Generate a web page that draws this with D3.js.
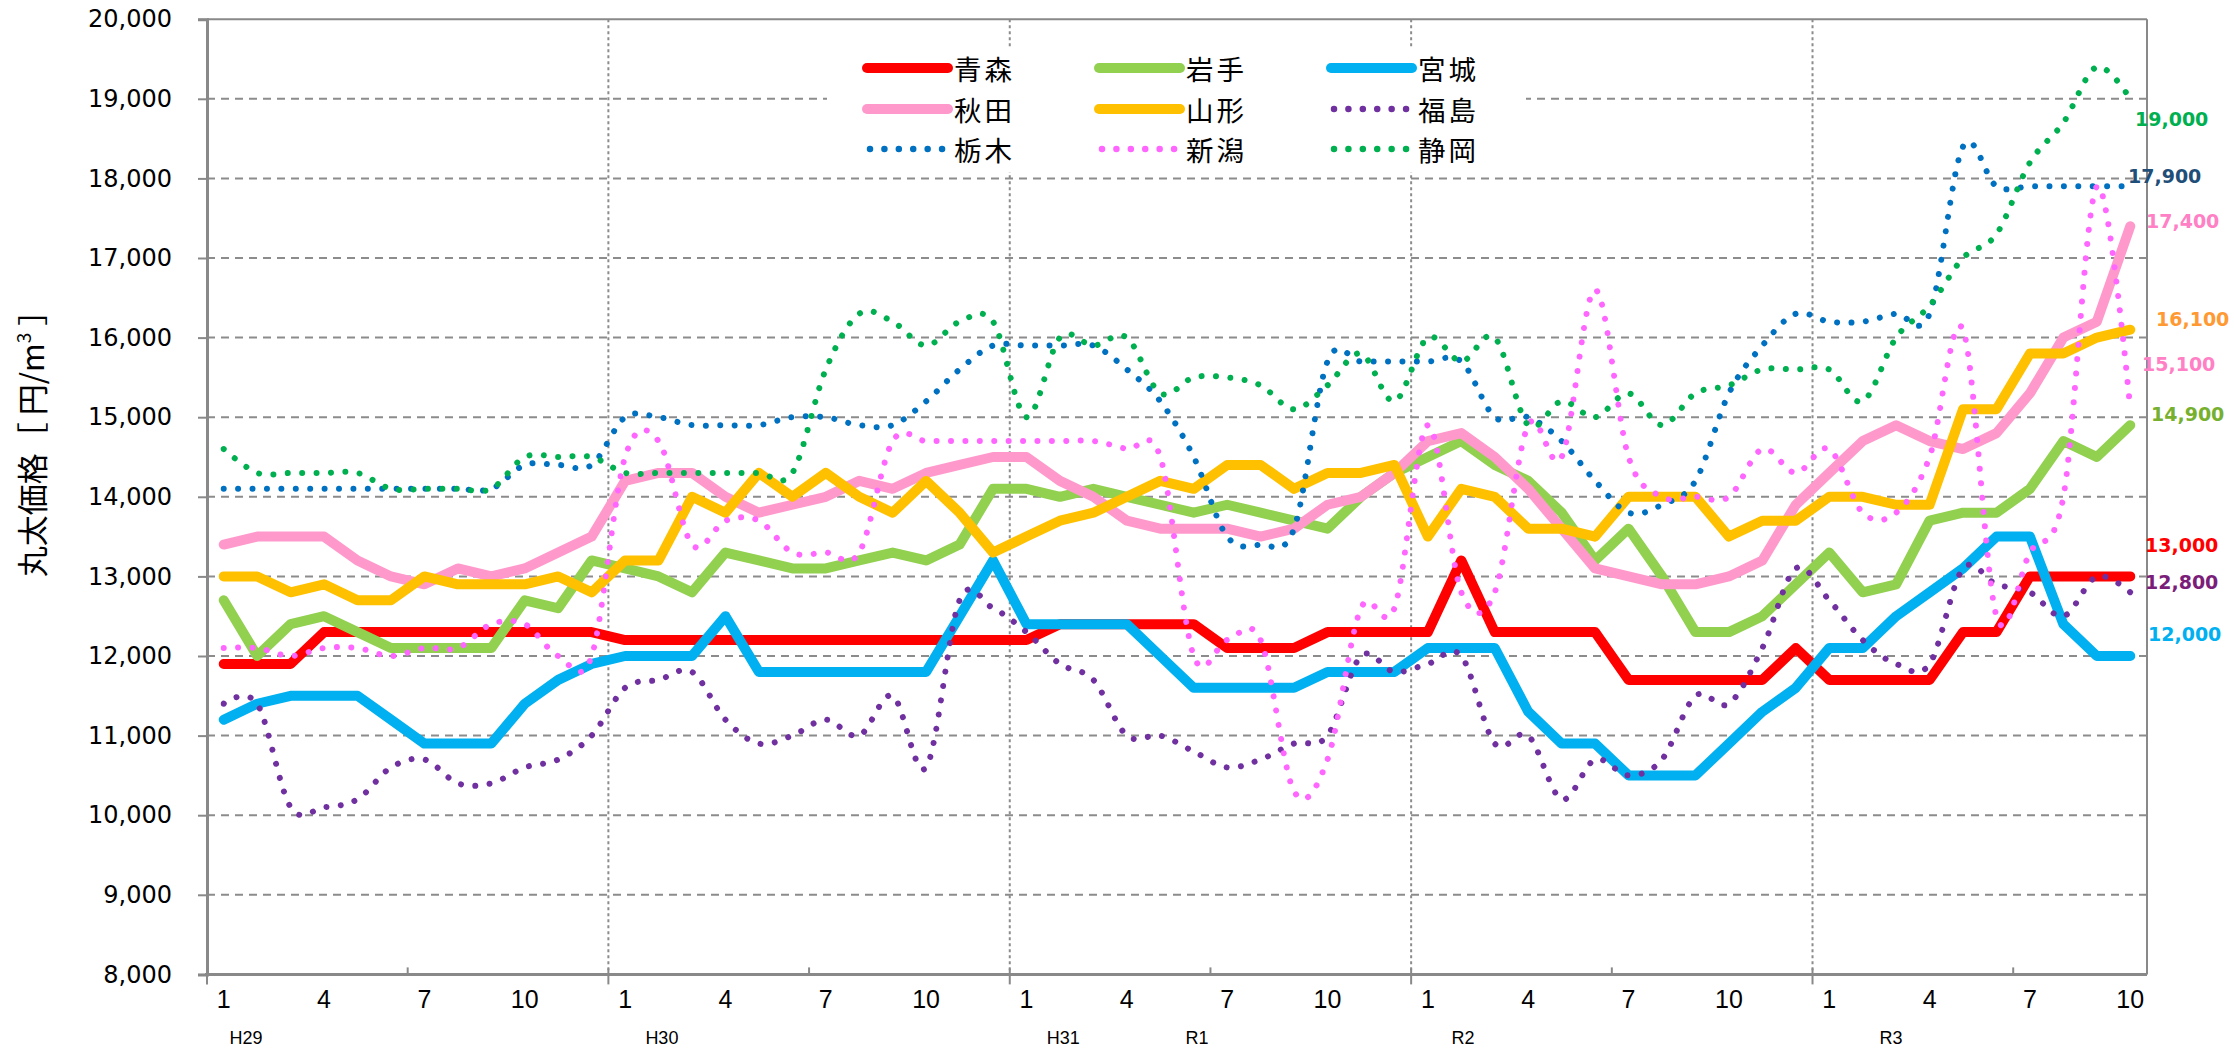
<!DOCTYPE html>
<html>
<head>
<meta charset="utf-8">
<script src="https://cdn.jsdelivr.net/npm/d3@7"></script>
<style>
  html, body { margin: 0; padding: 0; background: #fff; }
  svg { display: block; }
</style>
</head>
<body>
<svg id="chart" width="2234" height="1056"></svg>
<script>
// ---- categories: month of each observation, H29.1 through R3.10 ----
const months = [
  1,2,3,4,5,6,7,8,9,10,11,12,
  1,2,3,4,5,6,7,8,9,10,11,12,
  1,2,3,4,5,6,7,8,9,10,11,12,
  1,2,3,4,5,6,7,8,9,10,11,12,
  1,2,3,4,5,6,7,8,9,10
];
const monthLabels = [1, 4, 7, 10];
const eraLabels = ["H29", "H30", "H31", "R1", "R2", "R3"];

// ---- log prices (yen / m3) by prefecture ----
const aomori = [11900,11900,11900,12300,12300,12300,12300,12300,12300,12300,12300,12300,
  12200,12200,12200,12200,12200,12200,12200,12200,12200,12200,12200,12200,
  12200,12400,12400,12400,12400,12400,12100,12100,12100,12300,12300,12300,
  12300,13200,12300,12300,12300,12300,11700,11700,11700,11700,11700,12100,
  11700,11700,11700,11700,12300,12300,13000,13000,13000,13000];
const iwate = [12700,12000,12400,12500,12300,12100,12100,12100,12100,12700,12600,13200,
  13100,13000,12800,13300,13200,13100,13100,13200,13300,13200,13400,14100,
  14100,14000,14100,14000,13900,13800,13900,13800,13700,13600,14000,14300,
  14500,14700,14400,14200,13800,13200,13600,13000,12300,12300,12500,12900,
  13300,12800,12900,13700,13800,13800,14100,14700,14500,14900];
const miyagi = [11200,11400,11500,11500,11500,11200,10900,10900,10900,11400,11700,11900,
  12000,12000,12000,12500,11800,11800,11800,11800,11800,11800,12500,13200,
  12400,12400,12400,12400,12000,11600,11600,11600,11600,11800,11800,11800,
  12100,12100,12100,11300,10900,10900,10500,10500,10500,10900,11300,11600,
  12100,12100,12500,12800,13100,13500,13500,12400,12000,12000];
const akita = [13400,13500,13500,13500,13200,13000,12900,13100,13000,13100,13300,13500,
  14200,14300,14300,14000,13800,13900,14000,14200,14100,14300,14400,14500,
  14500,14200,14000,13700,13600,13600,13600,13500,13600,13900,14000,14300,
  14700,14800,14500,14100,13600,13100,13000,12900,12900,13000,13200,13900,
  14300,14700,14900,14700,14600,14800,15300,16000,16200,17400];
const yamagata = [13000,13000,12800,12900,12700,12700,13000,12900,12900,12900,13000,12800,
  13200,13200,14000,13800,14300,14000,14300,14000,13800,14200,13800,13300,
  13500,13700,13800,14000,14200,14100,14400,14400,14100,14300,14300,14400,
  13500,14100,14000,13600,13600,13500,14000,14000,14000,13500,13700,13700,
  14000,14000,13900,13900,15100,15100,15800,15800,16000,16100];
const fukushima = [11400,11400,10100,10100,10200,10600,10700,10400,10400,10600,10700,11000,
  11600,11700,11800,11200,10900,11000,11200,11000,11500,10600,12700,12600,
  12300,11900,11700,11000,11000,10800,10600,10700,10900,11000,12000,11800,
  11900,12000,10900,11000,10200,10700,10500,10700,11500,11400,12100,13100,
  12700,12200,11900,11900,13100,12900,12800,12500,13000,12800];
const tochigi = [14100,14100,14100,14100,14100,14100,14100,14100,14100,14400,14400,14400,
  15000,15000,14900,14900,14900,15000,15000,14900,14900,15200,15600,15900,
  15900,15900,15900,15600,15200,14500,13500,13400,13600,15700,15700,15700,
  15700,15700,15000,15000,14700,14200,13800,13900,14200,15300,15900,16300,
  16200,16200,16300,16300,18400,17900,17900,17900,17900,17900];
const niigata = [12100,12100,12000,12100,12100,12000,12100,12100,12400,12400,12000,12000,
  14500,14700,13400,13700,13700,13300,13300,13300,14700,14700,14700,14700,
  14700,14700,14700,14600,14500,12000,12200,12200,10300,10700,12600,12600,
  14900,12800,12800,14900,14500,16600,14500,14000,14000,14000,14600,14300,
  14600,13800,13800,14500,16100,12500,13300,14000,17900,15100];
const shizuoka = [14600,14300,14300,14300,14300,14100,14100,14100,14100,14500,14500,14500,
  14300,14300,14300,14300,14300,14300,15600,16300,16200,15900,16200,16200,
  15000,16000,15900,16000,15300,15500,15500,15400,15100,15400,15800,15200,
  16000,15700,16000,14900,15200,15000,15300,14900,15300,15400,15600,15600,
  15600,15200,16000,16400,17000,17300,18200,18700,19400,19000];

const seriesNames = ["青森","岩手","宮城","秋田","山形","福島","栃木","新潟","静岡"];
const seriesValues = [aomori, iwate, miyagi, akita, yamagata, fukushima, tochigi, niigata, shizuoka];

// ---- styling ----
const lineColors  = ["#FF0000","#92D050","#00B0F0","#FF99CC","#FFC000","#7030A0","#0070C0","#FF66FF","#00B050"];
const dottedLine  = [false,false,false,false,false,true,true,true,true];
const labelColors = ["#FF0000","#77B02F","#00B0F0","#FF80C4","#FF9933","#7B1E7A","#1F4E79","#FF80C4","#00B050"];
// end-label nudges (px) from the last point, so crowded labels stay readable
const labelDx = [-2, 4, 1, -1, 9, -2, -19, -5, -12];
const labelDy = [-31, -11, -22, -5, -11, -10, -10, -45, 20];
// era labels sit a little to the right of their starting month
const eraAt = [0.67, 13.1, 25.1, 29.1, 37.05, 49.85];

const plot = { left: 207, right: 2147, top: 19.2, bottom: 974.4 };
const axisGray = "#898989";
const numFont = "'DejaVu Sans', sans-serif";
const jpFont = "'Noto Sans CJK JP', 'Noto Sans', sans-serif";
const catFont = "'Liberation Sans', Arial, sans-serif";

const svg = d3.select("#chart");

const x = d3.scaleBand().domain(d3.range(months.length)).range([plot.left, plot.right]);
const cx = i => x(i) + x.bandwidth() / 2;
const xAt = f => plot.left + (f + 0.5) * x.bandwidth();
const y = d3.scaleLinear().domain([8000, 20000]).range([plot.bottom, plot.top]);

// horizontal dashed gridlines
svg.append("g")
  .selectAll("line")
  .data(y.ticks(12).filter(v => v > 8000 && v < 20000))
  .join("line")
  .attr("x1", plot.left).attr("x2", plot.right)
  .attr("y1", d => y(d)).attr("y2", d => y(d))
  .attr("stroke", "#8c8c8c").attr("stroke-width", 2)
  .attr("stroke-dasharray", "8 6");

// year separators (between December and January)
const yearStarts = d3.range(months.length).filter(i => i > 0 && months[i] === 1);
svg.append("g")
  .selectAll("line")
  .data(yearStarts)
  .join("line")
  .attr("x1", d => x(d)).attr("x2", d => x(d))
  .attr("y1", plot.top).attr("y2", plot.bottom)
  .attr("stroke", "#8c8c8c").attr("stroke-width", 2)
  .attr("stroke-dasharray", "3 3");

// plot frame
svg.append("line").attr("x1", plot.left).attr("x2", plot.right).attr("y1", plot.top).attr("y2", plot.top)
  .attr("stroke", axisGray).attr("stroke-width", 2);
svg.append("line").attr("x1", plot.right).attr("x2", plot.right).attr("y1", plot.top).attr("y2", plot.bottom)
  .attr("stroke", axisGray).attr("stroke-width", 2);

// y axis
const yAxis = d3.axisLeft(y)
  .tickValues(y.ticks(12))
  .tickFormat(d3.format(","))
  .tickSize(9)
  .tickPadding(26);
const gy = svg.append("g").attr("transform", `translate(${plot.left},0)`).call(yAxis);
gy.select(".domain").attr("stroke", axisGray).attr("stroke-width", 3);
gy.selectAll(".tick line").attr("stroke", axisGray).attr("stroke-width", 2);
gy.selectAll(".tick text").attr("font-family", numFont).attr("font-size", 24).attr("fill", "#000");

// x axis: line, ticks and month labels
svg.append("line").attr("x1", plot.left - 2).attr("x2", plot.right).attr("y1", plot.bottom).attr("y2", plot.bottom)
  .attr("stroke", axisGray).attr("stroke-width", 3);
const majorTicks = [0].concat(yearStarts);
svg.append("g").selectAll("line").data(majorTicks).join("line")
  .attr("x1", d => x(d)).attr("x2", d => x(d))
  .attr("y1", plot.bottom - 6).attr("y2", plot.bottom + 10)
  .attr("stroke", axisGray).attr("stroke-width", 2);
const minorTicks = d3.range(months.length).filter(i => months[i] === 7);
svg.append("g").selectAll("line").data(minorTicks).join("line")
  .attr("x1", d => x(d)).attr("x2", d => x(d))
  .attr("y1", plot.bottom - 7).attr("y2", plot.bottom)
  .attr("stroke", axisGray).attr("stroke-width", 2);

const labelled = d3.range(months.length).filter(i => monthLabels.includes(months[i]));
svg.append("g").selectAll("text").data(labelled).join("text")
  .attr("x", d => cx(d)).attr("y", 1008)
  .attr("text-anchor", "middle")
  .attr("font-family", catFont).attr("font-size", 25).attr("fill", "#000")
  .text(d => months[d]);

svg.append("g").selectAll("text").data(eraLabels).join("text")
  .attr("x", (d, i) => xAt(eraAt[i])).attr("y", 1044)
  .attr("text-anchor", "middle")
  .attr("font-family", catFont).attr("font-size", 18).attr("fill", "#000")
  .text(d => d);

// y axis title
const title = svg.append("text")
  .attr("transform", "translate(44,436) rotate(-90)")
  .attr("text-anchor", "middle")
  .attr("font-family", jpFont).attr("font-size", 31).attr("fill", "#000");
title.append("tspan").text("丸太価格［ 円/m");
title.append("tspan").attr("font-size", 19).attr("dy", -13).text("3");
title.append("tspan").attr("dy", 13).text(" ］");

// legend backdrop
const legend = { left: 827, top: 47, width: 699, height: 125 };
svg.append("rect").attr("x", legend.left).attr("y", legend.top)
  .attr("width", legend.width).attr("height", legend.height).attr("fill", "#fff");

// series lines; the dotted series are drawn as smoothed curves
const series = seriesNames.map((name, k) => ({
  name, values: seriesValues[k], color: lineColors[k], dotted: dottedLine[k], labelColor: labelColors[k]
}));
const lineGen = (dotted) => d3.line()
  .x((v, i) => cx(i))
  .y(v => y(v))
  .curve(dotted ? d3.curveCatmullRom.alpha(0) : d3.curveLinear);

function styleStroke(sel, s) {
  sel.attr("fill", "none").attr("stroke", s.color)
    .attr("stroke-linecap", "round").attr("stroke-linejoin", "round");
  if (s.dotted) sel.attr("stroke-width", 6).attr("stroke-dasharray", "0.01 14.4");
  else sel.attr("stroke-width", 10);
}

svg.append("g").selectAll("path").data(series).join("path")
  .attr("d", s => lineGen(s.dotted)(s.values))
  .each(function (s) { styleStroke(d3.select(this), s); });

// value labels at the latest month
const last = months.length - 1;
svg.append("g").selectAll("text").data(series).join("text")
  .attr("x", (s, k) => plot.right + labelDx[k])
  .attr("y", (s, k) => y(s.values[last]) + labelDy[k])
  .attr("dominant-baseline", "central")
  .attr("font-family", numFont).attr("font-weight", "bold").attr("font-size", 19)
  .attr("fill", s => s.labelColor)
  .text(s => d3.format(",")(s.values[last]));

// legend entries: 3 columns x 3 rows
const colX = [867, 1099, 1331];
const rowY = [68, 109, 149];
const sampleLen = 81;
const entries = svg.append("g").selectAll("g").data(series).join("g")
  .attr("transform", (s, k) => `translate(${colX[k % 3]},${rowY[Math.floor(k / 3)]})`);
entries.append("line")
  .attr("x1", s => s.dotted ? 3 : 0).attr("x2", sampleLen).attr("y1", 0).attr("y2", 0)
  .each(function (s) { styleStroke(d3.select(this), s); })
  .attr("stroke-width", s => s.dotted ? 6.5 : 10);
entries.append("text")
  .attr("x", sampleLen + 6).attr("y", 0)
  .attr("dominant-baseline", "central")
  .attr("font-family", jpFont).attr("font-size", 27.5).attr("letter-spacing", 3).attr("fill", "#000")
  .text(s => s.name);
</script>
</body>
</html>
